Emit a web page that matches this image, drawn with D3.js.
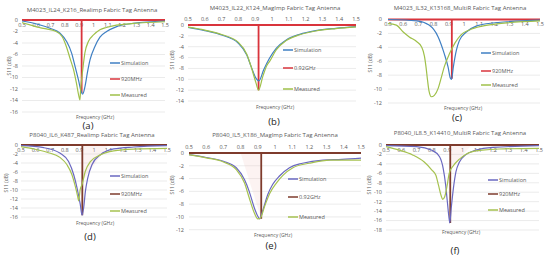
<!DOCTYPE html>
<html>
<head>
<meta charset="utf-8">
<script src="https://cdn.jsdelivr.net/npm/d3@7"></script>
<style>
  body { margin: 0; background: #fff; }
  svg { display: block; font-family: "Open Sans", "Liberation Sans", sans-serif; }
</style>
</head>
<body>
<svg id="chart" width="550" height="259"></svg>
<script>
// frequency ticks shared by all panels (GHz)
const freqTicks = [0.5, 0.6, 0.7, 0.8, 0.9, 1, 1.1, 1.2, 1.3, 1.4, 1.5];

// (a) M4023 Realimp
const simA = [[0.5,-0.17],[0.603,-0.69],[0.696,-1.44],[0.766,-2.3],[0.812,-3.74],[0.847,-5.75],[0.871,-8.05],[0.894,-10.34],[0.913,-12.36],[0.924,-12.9],[0.941,-11.49],[0.957,-9.2],[0.976,-6.9],[1.01,-4.6],[1.045,-2.99],[1.092,-2.01],[1.162,-1.15],[1.279,-0.57],[1.5,-0.17]];
const measA = [[0.5,-0.46],[0.58,-1.03],[0.62,-1.3],[0.67,-1.55],[0.73,-1.9],[0.78,-2.87],[0.81,-4.6],[0.835,-6.6],[0.86,-8.6],[0.88,-10.9],[0.9,-13.5],[0.905,-13.9],[0.91,-12.1],[0.925,-8.6],[0.94,-5.7],[0.965,-3.7],[1.0,-2.6],[1.045,-1.7],[1.09,-1.3],[1.16,-0.9],[1.28,-0.6],[1.5,-0.3]];
const markA = [[0.5,0],[0.917,0],[0.917,-12.7],[0.917,0],[1.5,0]];

// (b) M4023 MagImp
const simB = [[0.5,-0.43],[0.6,-1.04],[0.7,-1.84],[0.8,-3.37],[0.85,-5.52],[0.876,-7.67],[0.905,-9.82],[0.922,-10.3],[0.95,-8.28],[0.985,-6.13],[1.025,-4.29],[1.085,-2.76],[1.165,-1.72],[1.26,-1.04],[1.38,-0.61],[1.5,-0.31]];
const measB = [[0.5,-0.4],[0.6,-0.95],[0.7,-1.75],[0.8,-3.2],[0.85,-5.4],[0.876,-7.7],[0.905,-10.7],[0.92,-12],[0.945,-9.5],[0.97,-7.4],[0.985,-6.75],[1.025,-4.6],[1.084,-2.88],[1.165,-1.8],[1.26,-1.1],[1.38,-0.65],[1.5,-0.35]];
const markB = [[0.5,0],[0.92,0],[0.92,-12],[0.92,0],[1.5,0]];

// (c) M4023 MultiR
const simC = [[0.5,0],[0.69,-0.2],[0.77,-0.8],[0.83,-2.5],[0.87,-4.9],[0.895,-6.8],[0.91,-8.4],[0.918,-8.6],[0.93,-6.8],[0.95,-4.4],[0.97,-3],[1.015,-1.8],[1.08,-0.95],[1.19,-0.5],[1.5,-0.1]];
const measC = [[0.5,-0.6],[0.555,-0.8],[0.6,-1.8],[0.64,-2.5],[0.69,-3.2],[0.72,-3.9],[0.74,-5.3],[0.75,-6.8],[0.76,-8.7],[0.77,-10.3],[0.785,-11.1],[0.805,-10.9],[0.83,-9.9],[0.85,-8.4],[0.87,-6.8],[0.905,-4.9],[0.94,-3.4],[0.98,-2.2],[1.036,-1.5],[1.12,-0.95],[1.23,-0.6],[1.5,-0.2]];
const markC = [[0.5,0],[0.92,0],[0.92,-8.5],[0.92,0],[1.5,0]];

// (d) P8040 Realimp
const simD = [[0.5,-0.15],[0.655,-0.59],[0.769,-1.84],[0.826,-3.68],[0.861,-6.62],[0.884,-9.56],[0.906,-13.2],[0.918,-15.6],[0.929,-13.97],[0.941,-10.3],[0.957,-7.35],[0.986,-4.4],[1.043,-2.2],[1.135,-0.88],[1.272,-0.44],[1.5,-0.15]];
const measD = [[0.5,-0.37],[0.587,-0.88],[0.678,-1.62],[0.769,-2.8],[0.815,-4.4],[0.849,-6.6],[0.872,-9.2],[0.888,-11.4],[0.895,-12.4],[0.905,-10],[0.918,-8.8],[0.94,-5.9],[0.975,-3.7],[1.043,-2.2],[1.135,-1.3],[1.27,-0.9],[1.5,-0.75]];
const markD = [[0.5,0],[0.92,0],[0.92,-15.6],[0.92,0],[1.5,0]];
const shadeD = [[0.92,0],[0.92,-8],[1.1,0]];

// (e) P8040 MagImp
const simE = [[0.5,-0.25],[0.6,-0.7],[0.7,-1.3],[0.775,-2.3],[0.823,-4.2],[0.85,-6],[0.88,-8.6],[0.9,-9.9],[0.91,-10.3],[0.93,-8.9],[0.958,-6.5],[0.987,-4.9],[1.026,-3.6],[1.084,-2.3],[1.16,-1.6],[1.28,-1.1],[1.39,-1.0],[1.5,-0.8]];
const measE = [[0.5,-0.25],[0.6,-0.75],[0.7,-1.4],[0.775,-2.6],[0.823,-4.7],[0.85,-7],[0.88,-9.4],[0.9,-10.3],[0.914,-10.2],[0.94,-8.3],[0.97,-6.3],[1.008,-4.7],[1.046,-3.5],[1.104,-2.3],[1.2,-1.6],[1.32,-1.1],[1.5,-1.1]];
const markE = [[0.5,0],[0.92,0],[0.92,-10.3],[0.92,0],[1.5,0]];
const shadeE = [[0.8,0],[0.92,-10.3],[0.92,0]];

// (f) P8040 MultiR
const simF = [[0.5,-0.15],[0.7,-0.35],[0.8,-1.1],[0.85,-2.5],[0.874,-5],[0.89,-8.5],[0.9,-11.7],[0.913,-15.7],[0.917,-16.5],[0.926,-13.5],[0.94,-9.3],[0.957,-5.7],[0.98,-3.6],[1.02,-2.1],[1.087,-1.1],[1.2,-0.5],[1.5,-0.15]];
const measF = [[0.5,-0.35],[0.587,-1.1],[0.674,-2.1],[0.75,-3.6],[0.8,-5.3],[0.826,-6.4],[0.843,-8.5],[0.86,-10.7],[0.87,-11.5],[0.883,-11],[0.9,-8.5],[0.913,-6],[0.94,-4.4],[0.98,-3],[1.02,-2],[1.065,-1.4],[1.13,-1.1],[1.24,-0.85],[1.5,-0.7]];
const markF = [[0.5,0],[0.92,0],[0.92,-16.5],[0.92,0],[1.5,0]];
const shadeF = [[0.92,0],[0.92,-5],[1.06,0]];

const topColors = { sim: "#3f7fc3", mark: "#d9343c", meas: "#9fc04a" };
const botColors = { sim: "#6a68c0", mark: "#7e3b2c", meas: "#a6c250" };

const panels = [
  { tag: "(a)", title: "M4023_IL24_K216_Realimp Fabric Tag Antenna", markName: "920MHz", sim: simA, meas: measA, mark: markA, yMin: -16, col: topColors,
    x0: 22, x1: 165, yTop: 20, yBot: 112, titleX: 92, titleY: 10, xLabAbove: false, tickRight: 18, axTitleX: 9, axTitleY: 66,
    freqX: 95, freqY: 117, tagX: 88, tagY: 126, legX: 110, legRows: [63, 79, 95] },
  { tag: "(b)", title: "M4023_IL22_K124_MagImp Fabric Tag Antenna", markName: "0.92GHz", sim: simB, meas: measB, mark: markB, yMin: -14, col: topColors,
    x0: 188, x1: 356, yTop: 25, yBot: 101, titleX: 275, titleY: 8, xLabAbove: true, tickRight: 184, axTitleX: 172, axTitleY: 60,
    freqX: 275, freqY: 107, tagX: 274, tagY: 122, legX: 283, legRows: [50, 68, 89] },
  { tag: "(c)", title: "M4023_IL32_K13168_MultiR Fabric Tag Antenna", markName: "920MHz", sim: simC, meas: measC, mark: markC, yMin: -12, col: topColors,
    x0: 388, x1: 540, yTop: 19.5, yBot: 103, titleX: 460, titleY: 8, xLabAbove: false, tickRight: 382, axTitleX: 370, axTitleY: 63,
    freqX: 463, freqY: 108, tagX: 457, tagY: 118, legX: 481, legRows: [53, 71, 85] },
  { tag: "(d)", title: "P8040_IL6_K487_Realimp Fabric Tag Antenna", markName: "920MHz", sim: simD, meas: measD, mark: markD, shade: shadeD, yMin: -16, col: botColors,
    x0: 21, x1: 167, yTop: 145, yBot: 217, titleX: 92, titleY: 135, xLabAbove: false, tickRight: 18, axTitleX: 6, axTitleY: 183,
    freqX: 95, freqY: 223, tagX: 90, tagY: 237, legX: 110, legRows: [176, 194, 211] },
  { tag: "(e)", title: "P8040_IL5_K186_MagImp Fabric Tag Antenna", markName: "0.92GHz", sim: simE, meas: measE, mark: markE, shade: shadeE, yMin: -12, col: botColors,
    x0: 189, x1: 361, yTop: 153, yBot: 229.7, titleX: 275, titleY: 135, xLabAbove: true, tickRight: 184, axTitleX: 172, axTitleY: 185,
    freqX: 273, freqY: 235, tagX: 271, tagY: 246, legX: 288, legRows: [179, 197, 217] },
  { tag: "(f)", title: "P8040_IL8.5_K14410_MultiR Fabric Tag Antenna", markName: "920MHz", sim: simF, meas: measF, mark: markF, shade: shadeF, yMin: -18, col: botColors,
    x0: 386, x1: 539, yTop: 145, yBot: 230, titleX: 460, titleY: 133, xLabAbove: false, tickRight: 382, axTitleX: 369, axTitleY: 185,
    freqX: 461, freqY: 232, tagX: 455, tagY: 251, legX: 488, legRows: [180, 194, 210] }
];

const svg = d3.select("#chart");

function drawPanel(p) {
  const g = svg.append("g");
  const x = d3.scaleLinear().domain([0.5, 1.5]).range([p.x0, p.x1]);
  const y = d3.scaleLinear().domain([p.yMin, 0]).range([p.yBot, p.yTop]);
  const yTicks = d3.range(0, p.yMin - 1, -2);

  // gridlines
  g.selectAll(".grid").data(yTicks.filter(d => d !== 0)).enter().append("line")
    .attr("x1", p.x0).attr("x2", p.x1)
    .attr("y1", d => y(d)).attr("y2", d => y(d))
    .style("stroke", "#e3e3e3").style("stroke-width", 0.7);

  // y tick labels
  g.selectAll(".ylab").data(yTicks).enter().append("text")
    .attr("x", p.tickRight).attr("y", d => y(d))
    .attr("dy", "0.35em").attr("text-anchor", "end")
    .text(d => d)
    .style("font-size", "5.5px").style("fill", "#595959");

  // x tick labels
  g.selectAll(".xlab").data(freqTicks).enter().append("text")
    .attr("x", d => x(d)).attr("y", p.xLabAbove ? p.yTop - 6 : p.yTop + 5)
    .attr("dy", "0.35em").attr("text-anchor", "middle")
    .text(d => d)
    .style("font-size", "5.5px").style("fill", "#595959");

  // faint shaded band next to the 920 MHz marker (bottom row only)
  if (p.shade) {
    g.append("path").datum(p.shade)
      .attr("d", d3.line().x(d => x(d[0])).y(d => y(d[1])))
      .style("fill", "#f2c4c0").style("fill-opacity", 0.2).style("stroke", "none");
  }

  // zero axis line
  g.append("line").attr("x1", p.x0).attr("x2", p.x1)
    .attr("y1", y(0)).attr("y2", y(0))
    .style("stroke", "#bfbfbf").style("stroke-width", 0.8);

  const line = d3.line().x(d => x(d[0])).y(d => y(d[1]));
  const smooth = d3.line().x(d => x(d[0])).y(d => y(d[1])).curve(d3.curveMonotoneX);

  g.append("path").datum(p.mark).attr("d", line)
    .style("fill", "none").style("stroke", p.col.mark).style("stroke-width", 1.8);
  g.append("path").datum(p.sim).attr("d", smooth)
    .style("fill", "none").style("stroke", p.col.sim).style("stroke-width", 1.2);
  g.append("path").datum(p.meas).attr("d", smooth)
    .style("fill", "none").style("stroke", p.col.meas).style("stroke-width", 1.2);

  // title, axis titles, panel tag
  g.append("text").attr("x", p.titleX).attr("y", p.titleY).attr("dy", "0.35em")
    .attr("text-anchor", "middle").text(p.title)
    .style("font-size", "6px").style("fill", "#595959");
  g.append("text").attr("transform", `translate(${p.axTitleX},${p.axTitleY}) rotate(-90)`)
    .attr("dy", "0.35em").attr("text-anchor", "middle").text("S11 (dB)")
    .style("font-size", "5px").style("fill", "#595959");
  g.append("text").attr("x", p.freqX).attr("y", p.freqY).attr("dy", "0.35em")
    .attr("text-anchor", "middle").text("Frequency (GHz)")
    .style("font-size", "5px").style("fill", "#595959");
  g.append("text").attr("x", p.tagX).attr("y", p.tagY).attr("dy", "0.35em")
    .attr("text-anchor", "middle").text(p.tag)
    .style("font-size", "9.5px").style("fill", "#222");

  // legend
  const legend = [
    { name: "Simulation", cor: p.col.sim },
    { name: p.markName, cor: p.col.mark },
    { name: "Measured", cor: p.col.meas }
  ];
  const item = g.selectAll(".leg").data(legend).enter().append("g")
    .attr("transform", (d, i) => `translate(${p.legX},${p.legRows[i]})`);
  item.append("line").attr("x1", 0).attr("x2", 10)
    .style("stroke", d => d.cor).style("stroke-width", 1.5);
  item.append("text").attr("x", 11).attr("dy", "0.35em").text(d => d.name)
    .style("font-size", "5.5px").style("fill", "#595959");
}

panels.forEach(drawPanel);
</script>
</body>
</html>
